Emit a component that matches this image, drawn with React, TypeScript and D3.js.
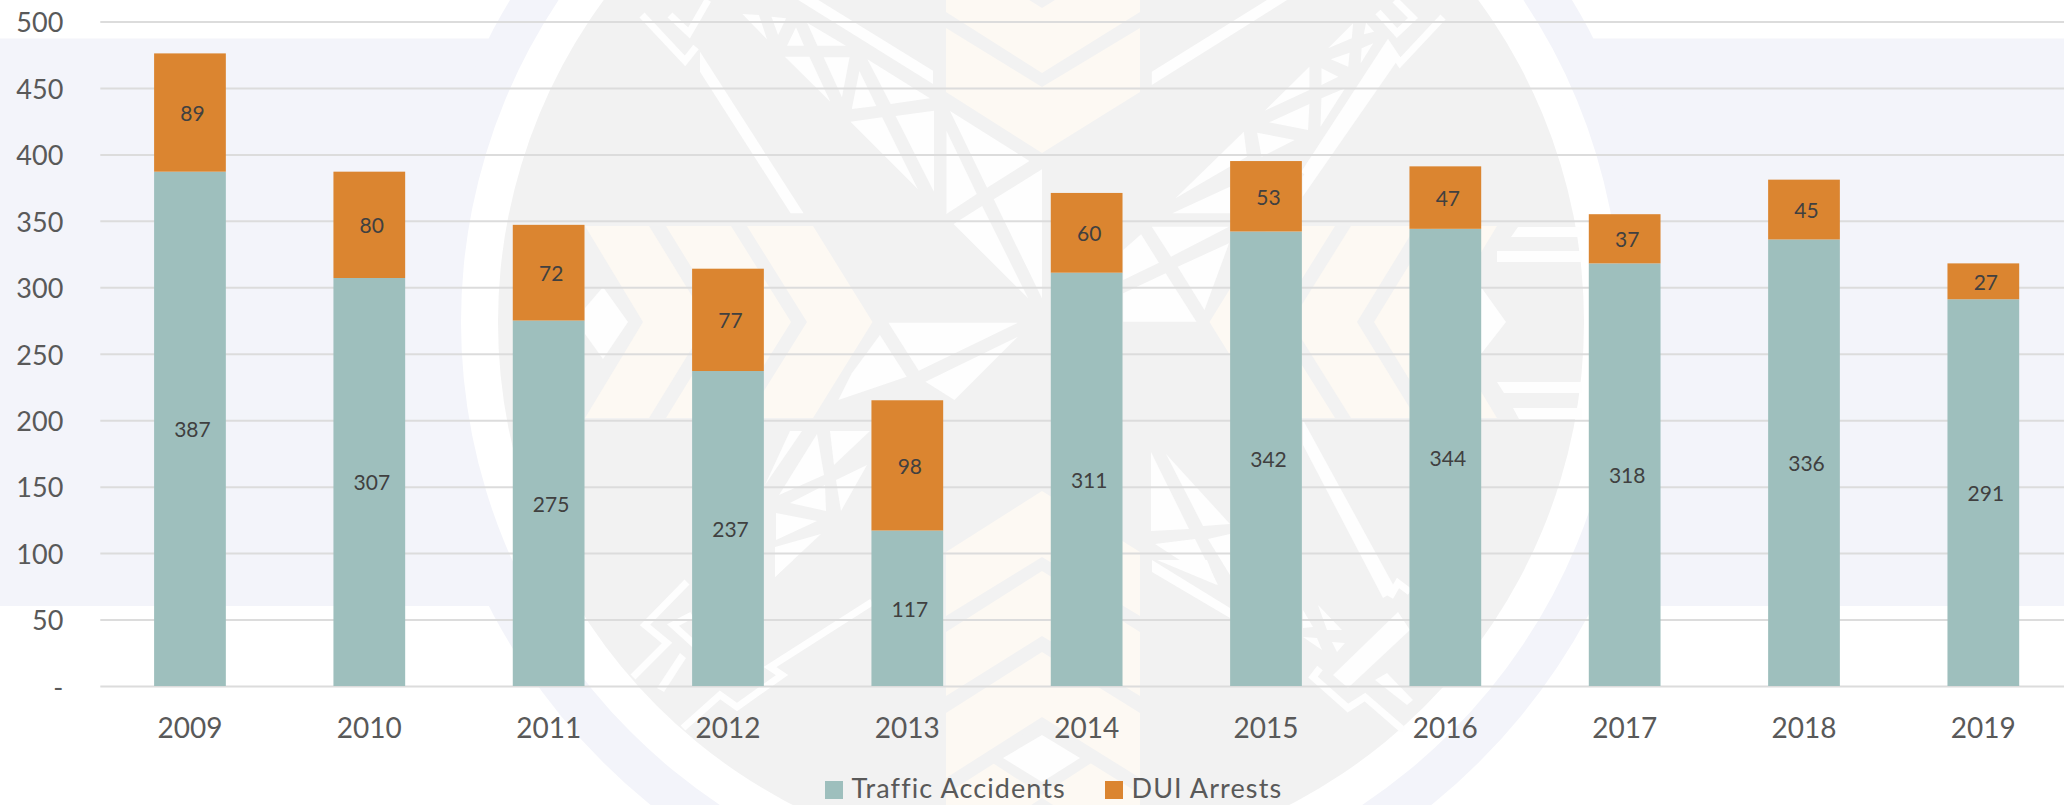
import React, { useEffect, useRef } from "react"
import * as d3 from "d3"

const years = ["2009", "2010", "2011", "2012", "2013", "2014", "2015", "2016", "2017", "2018", "2019"]
const trafficAccidents = [387, 307, 275, 237, 117, 311, 342, 344, 318, 336, 291]
const duiArrests = [89, 80, 72, 77, 98, 60, 53, 47, 37, 45, 27]
const yTicks = [0, 50, 100, 150, 200, 250, 300, 350, 400, 450, 500]
const seriesNames = ["Traffic Accidents", "DUI Arrests"]
const seriesColors = ["#9ebfbd", "#db8530"]

const svgWidth = 2064
const svgHeight = 805
const fontFamily = "Lato, sans-serif"

// background logo, pieces
const logoCx = 1041
const logoCy = 322
const sideChevrons = [
  [585, 649, 708, 643],
  [666, 731, 791, 725],
  [747, 813, 872.5, 807],
]
// side y at the notch end, notch y, side y at the tip end, tip y
const columnChevrons = [
  [-52, 8, 12, 73],
  [28, 87, 92, 153],
  [616, 557, 552, 491],
  [696, 636, 632, 571],
  [778, 717, 713, 652],
  [860, 798, 794, 733],
]
// in crop units (2.24x, 3x), x offset 700, y offset 0
const whiteTop = [
  "95,42 132,45 150,118", "160,50 193,55 175,105", "215,82 233,137 195,137", "240,68 327,137 263,137",
  "190,170 245,170 292,305", "277,172 335,172 318,292", "357,213 395,318 340,327", "375,178 515,295 427,312",
  "337,365 408,352 488,568", "438,348 524,332 524,575", "552,392 620,582 552,642", "560,333 738,483 643,563",
  "658,598 766,508 766,895", "632,618 735,895 568,672", "220,0 265,0 522,212 522,252", "0,155 0,215 203,640 232,640",
  "1012,215 1270,0 1315,0 1012,255", "1065,595 1218,395 1225,470", "1058,640 1187,560 1187,640",
  "1248,398 1332,420 1258,470", "1275,367 1365,312 1362,390", "1265,332 1365,200 1365,270",
  "1392,205 1430,230 1392,255", "1392,295 1445,265 1390,380", "1407,145 1463,70 1460,115",
  "1413,178 1455,158 1452,200", "1492,68 1510,95 1487,103", "1482,145 1508,130 1480,190",
  "1350,530 1545,135 1568,170 1350,590", "1012,680 1185,680 1055,770", "988,703 1028,788 948,840 948,750",
  "1070,800 1185,730 1130,930", "1043,820 1112,965 948,965 948,880", "422,968 712,968 490,1112",
  "403,1005 463,1130 310,1200 340,1120", "712,1010 570,1200 505,1145",
]
// plain picture pixels
const whitePlain = [
  "585,308 603,287 628,322 603,359 585,334", "1481,287 1506,322 1481,354", "1518,227 1582,227 1582,237 1511,237",
  "1497,251 1582,251 1582,262 1497,262", "1497,382 1582,382 1582,393 1504,393", "1513,408 1582,408 1582,419 1519,419",
  "790,431 802,431 765,485", "817,434 824,475 779,495", "830,431 870,431 834,465", "867,465 836,480 841,511",
  "826,511 790,503 825,485", "776,513 817,521 776,540", "821,534 775,577 775,547", "775,560 775,577 793,560",
  "1151,452 1189,529 1151,531", "1166,454 1230,524 1203,526", "1155,544 1195,539 1218,585", "1208,539 1230,534 1230,575",
  "1152,560 1152,572 1230,618 1230,608", "1157,560 1217,585 1207,560",
  "1303,445 1383,598 1396,590 1303,420",
  "1318,605 1342,630 1327,630", "1303,610 1313,627 1303,628", "1303,637 1322,650 1317,638", "1332,642 1345,643 1337,652",
  "1398,612 1333,675 1348,688 1410,630", "1375,680 1387,673 1413,700 1407,705",
  "657,688 680,653 686,658 664,692", "1003,758 1042,735 1080,758 1042,782",
]
const whiteLines = [
  "642,15 685,61 696,47", "670,15 689,33 708,0", "687,582 645,625 667,643 633,677", "692,615 673,625 695,645",
  "872,602 770,667 782,675 737,707 720,695 683,728", "1443,17 1400,63 1388,45 1304,174",
  "1395,0 1413,18 1397,33 1378,12", "1390,597 1398,583 1410,592", "1320,668 1313,677 1348,708 1365,697 1403,730",
]

const App = () => {
  const chart = useRef<SVGSVGElement>(null)

  useEffect(() => {
    const svg = d3.select(chart.current)
    svg.selectAll("*").remove()

    const x = d3
      .scaleBand()
      .domain(years)
      .range([100.3, 2073])
      .paddingInner(0.6)
      .paddingOuter(0.3)
    const y = d3.scaleLinear().domain([0, 500]).range([686, 21.5])

    // background
    const bg = svg.append("g")
    bg.append("rect").attr("width", svgWidth).attr("height", svgHeight).attr("fill", "#fff")
    bg.append("rect").attr("y", 38.5).attr("width", svgWidth).attr("height", 567.5).attr("fill", "#f3f4fa")
    bg.append("circle").attr("cx", logoCx).attr("cy", logoCy).attr("r", 621).attr("fill", "#f3f4fa")
    bg.append("circle").attr("cx", logoCx).attr("cy", logoCy).attr("r", 580).attr("fill", "#fff")
    bg.append("circle").attr("cx", logoCx).attr("cy", logoCy).attr("r", 543).attr("fill", "#f2f2f2")

    const cream = "#fdf9f3"
    sideChevrons.forEach(([tl, tr, tip, notch]) => {
      const pts = [[tl, 226], [tr, 226], [tip, 322], [tr, 418], [tl, 418], [notch, 322]]
      bg.append("polygon").attr("points", pts.join(" ")).attr("fill", cream)
      bg.append("polygon").attr("points", pts.map(([a, b]) => [2 * logoCx - a, b]).join(" ")).attr("fill", cream)
    })
    columnChevrons.forEach(([sideA, notch, sideB, tip]) => {
      const pts = [[946, sideA], [1042, notch], [1140, sideA], [1140, sideB], [1042, tip], [946, sideB]]
      bg.append("polygon").attr("points", pts.join(" ")).attr("fill", cream)
    })
    bg.append("polygon").attr("points", "985,758 1042,722 1099,758 1042,795").attr("fill", "#f2f2f2")

    const scalePts = (s: string) =>
      s
        .split(" ")
        .map((p) => {
          const [a, b] = p.split(",").map(Number)
          return [700 + a / 2.24, b / 3].join(",")
        })
        .join(" ")
    whiteTop.forEach((s) => bg.append("polygon").attr("points", scalePts(s)).attr("fill", "#fefefe"))
    whitePlain.forEach((s) => bg.append("polygon").attr("points", s).attr("fill", "#fefefe"))
    whiteLines.forEach((s) =>
      bg.append("polyline").attr("points", s).attr("fill", "none").attr("stroke", "#fefefe").attr("stroke-width", 7)
    )

    // axes with gridlines
    const yAxis = d3
      .axisLeft(y)
      .tickValues(yTicks)
      .tickSize(-(svgWidth - 100.3))
      .tickPadding(37)
      .tickFormat((d) => (d === 0 ? "-" : String(d)))
    const yG = svg.append("g").attr("transform", "translate(100.3,0)").call(yAxis)
    yG.select(".domain").remove()
    yG.selectAll("line").attr("stroke", "#dcdcdc").attr("stroke-width", 2)
    yG.selectAll("text")
      .attr("dy", "0.38em")
      .attr("font-family", fontFamily)
      .attr("font-size", 27)
      .attr("fill", "#595959")

    const xAxis = d3.axisBottom(x).tickSize(0).tickPadding(32)
    const xG = svg.append("g").attr("transform", "translate(0,686)").call(xAxis)
    xG.select(".domain").remove()
    xG.selectAll("text")
      .attr("font-family", fontFamily)
      .attr("font-size", 28)
      .attr("fill", "#595959")

    // stacked bars
    const rows = years.map((year, i) => ({ year, traffic: trafficAccidents[i], dui: duiArrests[i] }))
    const stack = d3.stack<any>().keys(["traffic", "dui"])(rows)

    const layers = svg
      .selectAll("g.layer")
      .data(stack)
      .enter()
      .append("g")
      .attr("class", "layer")
      .attr("fill", (d, i) => seriesColors[i])

    layers
      .selectAll("rect")
      .data((d) => d)
      .enter()
      .append("rect")
      .attr("x", (d) => x(d.data.year) as number)
      .attr("width", x.bandwidth())
      .attr("y", (d) => y(d[1]))
      .attr("height", (d) => y(d[0]) - y(d[1]))

    layers
      .selectAll("text")
      .data((d) => d)
      .enter()
      .append("text")
      .attr("x", (d) => (x(d.data.year) as number) + x.bandwidth() / 2 + 2.5)
      .attr("y", (d) => (y(d[0]) + y(d[1])) / 2 + 1)
      .attr("dy", "0.35em")
      .attr("text-anchor", "middle")
      .attr("font-family", fontFamily)
      .attr("font-size", 21)
      .attr("fill", "#404040")
      .text((d) => d[1] - d[0])

    // legend
    const legendX = [825, 1105]
    const legend = svg
      .selectAll("g.legend")
      .data(seriesNames)
      .enter()
      .append("g")
      .attr("class", "legend")
      .attr("transform", (d, i) => `translate(${legendX[i]},781)`)
    legend.append("rect").attr("width", 18).attr("height", 18).attr("fill", (d, i) => seriesColors[i])
    legend
      .append("text")
      .attr("x", 26.5)
      .attr("y", 17)
      .attr("font-family", fontFamily)
      .attr("font-size", 27)
      .attr("letter-spacing", 1.1)
      .attr("fill", "#595959")
      .text((d) => d)
  }, [])

  return (
    <svg
      ref={chart}
      width={svgWidth}
      height={svgHeight}
      style={{ position: "absolute", left: 0, top: 0, display: "block" }}
    />
  )
}

export default App
